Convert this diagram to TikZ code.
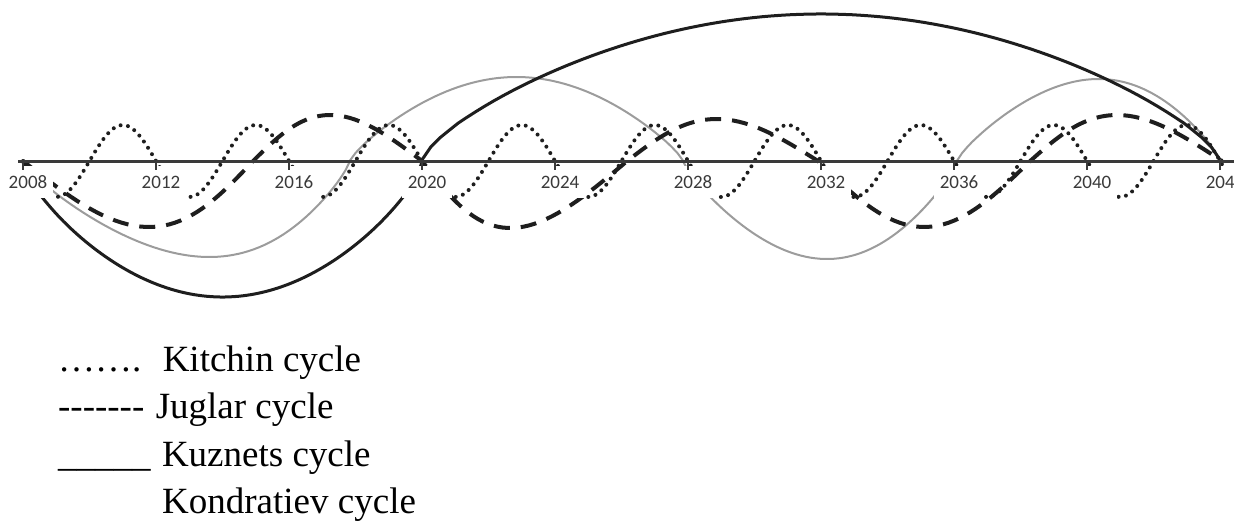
\documentclass[tikz,border=0pt]{standalone}
\usepackage{fontspec}
\setmainfont{Liberation Serif}
\newfontfamily\axisfont{Carlito}
\usetikzlibrary{positioning}
\definecolor{axisgray}{HTML}{3A3A3A}
\definecolor{kuzgray}{HTML}{9C9C9C}
\definecolor{inkblack}{HTML}{1E1E1E}
\tikzset{
  axisline/.style={draw=axisgray, line width=3pt}, % the time axis
  tickmark/.style={draw=axisgray, line width=1.5pt},
  yearlabel/.style={fill=white, text=axisgray, font=\axisfont\fontsize{19}{21}\selectfont,
    inner xsep=6pt, inner ysep=10pt, text height=12pt, text depth=0pt},
  kitchin/.style={draw=inkblack, line width=4pt, line cap=round, dash pattern=on 0pt off 7.5pt},
  juglar/.style={draw=inkblack, line width=4pt, dash pattern=on 16pt off 11pt},
  kuznets/.style={draw=kuzgray, line width=2pt},
  kondratiev/.style={draw=inkblack, line width=3pt},
  legend/.style={anchor=base west, inner sep=0pt, font=\fontsize{37}{44}\selectfont},
}

\begin{document}
\begin{tikzpicture}[x=33.25pt, y=1pt]
  \useasboundingbox (-0.692,-363) rectangle (36.42,161);
  % Kuznets cycle: start/end year, height, skew
  \draw[kuznets] (0,0) \foreach \a/\b/\h/\s in {0/9.83/-96/0.22, 9.83/19.85/84/0, 19.85/28.09/-98/0.08, 28.09/36/82/0.12}
    { -- plot[domain=0:180, samples=60] ({\a+(\b-\a)*(\x/180+\s*sin(\x)/pi)}, {\h*pow(max(sin(\x),0.001),0.8)}) };
  % Kondratiev cycle
  \draw[kondratiev] (0,0) \foreach \a/\b/\h in {0/12/-136, 12/36/147}
    { -- plot[domain=0:180, samples=90] ({\a+(\b-\a)*\x/180}, {\h*pow(max(sin(\x),0.001),0.7)}) };
  % Juglar cycle
  \draw[juglar] (0,0) \foreach \a/\b/\h/\s in {0/6.92/-66/0.15, 6.92/12/46/-0.14, 12/18.17/-67/-0.22, 18.17/23.91/42/-0.1, 23.91/30.29/-66/0, 30.29/36.06/46/-0.15}
    { -- plot[domain=0:180, samples=40] ({\a+(\b-\a)*(\x/180+\s*sin(\x)/pi)}, {\h*sin(\x)}) };
  % Kitchin cycle
  \draw[kitchin] plot[domain=0:36.1, samples=400] (\x, {-36*sin(90*\x)});

  % year labels (their white boxes hide the curves)
  \foreach \yr in {0,4,...,36} {
    \pgfmathtruncatemacro\lbl{2008+\yr}
    \node[yearlabel] (lbl\lbl) at (\yr+0.15,-21) {\lbl};
  }
  \draw[axisline] (-0.15,0) coordinate (axisStart) -- (36.6,0) coordinate (axisEnd);
  \foreach \yr in {0,4,...,36}
    \draw[tickmark] (\yr,0) -- (\yr,-9);

  % legend
  \node[legend] (kitchinMark) at (1.05,-210) {…….};
  \node[right=21pt of kitchinMark.base east, legend] (kitchinText) {Kitchin cycle};
  \node[legend] (juglarMark) at (1.05,-257) {-{}-{}-{}-{}-{}-{}-};
  \node[right=11pt of juglarMark.base east, legend] (juglarText) {Juglar cycle};
  \node[legend] (kuznetsMark) at (1.05,-305) {\_\_\_\_\_};
  \node[right=11pt of kuznetsMark.base east, legend] (kuznetsText) {Kuznets cycle};
  \node[legend] (kondratievText) at (4.18,-352) {Kondratiev cycle};
\end{tikzpicture}
\end{document}
